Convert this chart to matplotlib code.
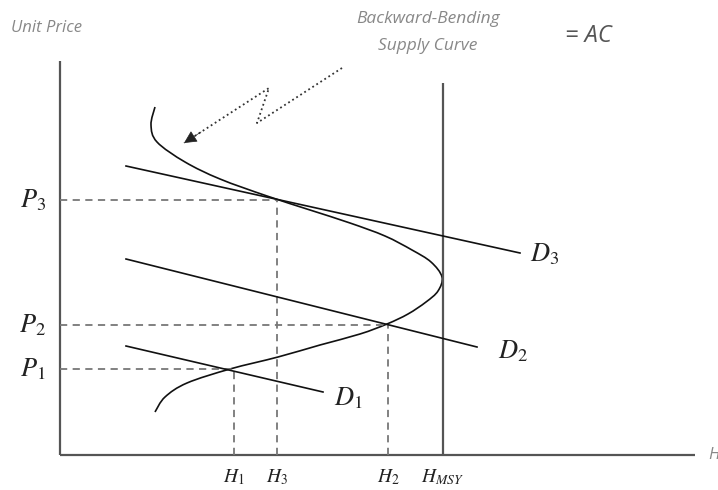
import numpy as np
import matplotlib
matplotlib.use("Agg")
import matplotlib.pyplot as plt
from matplotlib.path import Path
from matplotlib.patches import PathPatch

plt.rcParams['mathtext.fontset'] = 'stix'

# backward-bending supply curve, (harvest, unit price) points
supply_h = [95, 91, 97, 125, 160, 207, 250, 290, 325, 352, 371, 382,
            378, 366, 348, 327, 300, 260, 218, 170, 127, 105, 95]
supply_p = [348, 330, 313, 293, 276, 259, 245, 232, 219, 205, 193, 178,
            164, 153, 141, 131, 121, 110, 98, 86, 72, 58, 43]

# demand lines: (h0, p0, h1, p1)
demand_names = ['D_1', 'D_2', 'D_3']
demand_lines = [(66, 109, 263, 63),
                (66, 196, 417, 108),
                (66, 289, 460, 202)]
demand_label_pos = [(274, 57), (438, 104), (470, 201)]

# equilibria
eq_names = ['1', '2', '3']
eq_h = [174, 328, 217]
eq_p = [86, 130, 255]
h_msy = 383

h_max = 635
p_max = 394

fig = plt.figure(figsize=[7.18, 4.9], dpi=100)
ax = fig.add_axes([0, 0, 1, 1])
ax.set_xlim(-60, 658)
ax.set_ylim(-35, 455)
ax.axis('off')

axis_col = '#555555'
dash_col = '#777777'

# axes
ax.plot([0, 0], [0, p_max], color=axis_col, lw=1.6, solid_capstyle='butt')
ax.plot([0, h_max], [0, 0], color=axis_col, lw=1.6, solid_capstyle='butt')
ax.plot([h_msy, h_msy], [0, 372], color=axis_col, lw=1.6, solid_capstyle='butt')

# dashed guides
for h, p in zip(eq_h, eq_p):
    ax.plot([0, h], [p, p], color=dash_col, lw=1.3, dashes=(4, 3))
    ax.plot([h, h], [0, p], color=dash_col, lw=1.3, dashes=(4, 3))

# supply curve as a smooth Catmull-Rom spline through the points
pts = np.column_stack([supply_h, supply_p]).astype(float)
ext = np.vstack([pts[0], pts, pts[-1]])
verts = [tuple(pts[0])]
codes = [Path.MOVETO]
for i in range(1, len(ext) - 2):
    p0, p1, p2, p3 = ext[i - 1], ext[i], ext[i + 1], ext[i + 2]
    c1 = p1 + (p2 - p0) / 6
    c2 = p2 - (p3 - p1) / 6
    verts += [tuple(c1), tuple(c2), tuple(p2)]
    codes += [Path.CURVE4] * 3
ax.add_patch(PathPatch(Path(verts, codes), facecolor='none',
                       edgecolor='#111111', lw=1.2))

# demand lines
for (h0, p0, h1, p1), name, (lx, ly) in zip(demand_lines, demand_names,
                                            demand_label_pos):
    ax.plot([h0, h1], [p0, p1], color='#111111', lw=1.2)
    ax.text(lx, ly, '$' + name + '$', fontsize=19, color='#222222',
            ha='left', va='center')

# price and harvest labels
for n, h, p in zip(eq_names, eq_h, eq_p):
    ax.text(-14, p, '$P_' + n + '$', fontsize=19, color='#222222',
            ha='right', va='center')
    ax.text(h, -22, '$H_' + n + '$', fontsize=14, color='#222222',
            ha='center', va='center')
ax.text(h_msy, -22, r'$H_{MSY}$', fontsize=14, color='#222222',
        ha='center', va='center')

# top texts
ax.text(-49, 427, 'Unit Price', fontsize=12, style='italic',
        family='Open Sans', color='#888888', ha='left', va='center')
ax.text(368, 436, 'Backward-Bending', fontsize=12.5, style='italic',
        family='Open Sans', color='#888888', ha='center', va='center')
ax.text(368, 409, 'Supply Curve', fontsize=12.5, style='italic',
        family='Open Sans', color='#888888', ha='center', va='center')
ax.text(505, 419, '= AC', fontsize=17, style='italic',
        family='Open Sans', color='#555555', ha='left', va='center')
ax.text(648, 0, 'H', fontsize=12, style='italic',
        family='Open Sans', color='#888888', ha='left', va='center')

# dotted zig-zag arrow pointing at the curve
zig_h = [282, 197, 209, 124]
zig_p = [387, 332, 367, 312]
ax.plot(zig_h, zig_p, color='#333333', lw=1.3, linestyle=':')
ax.annotate('', xy=(zig_h[-1], zig_p[-1]),
            xytext=(zig_h[-1] + 0.2 * (zig_h[-2] - zig_h[-1]),
                    zig_p[-1] + 0.2 * (zig_p[-2] - zig_p[-1])),
            arrowprops=dict(arrowstyle='-|>', color='#222222', lw=0.5,
                            mutation_scale=20, shrinkA=0, shrinkB=0))

fig.savefig('out.png', dpi=100)
